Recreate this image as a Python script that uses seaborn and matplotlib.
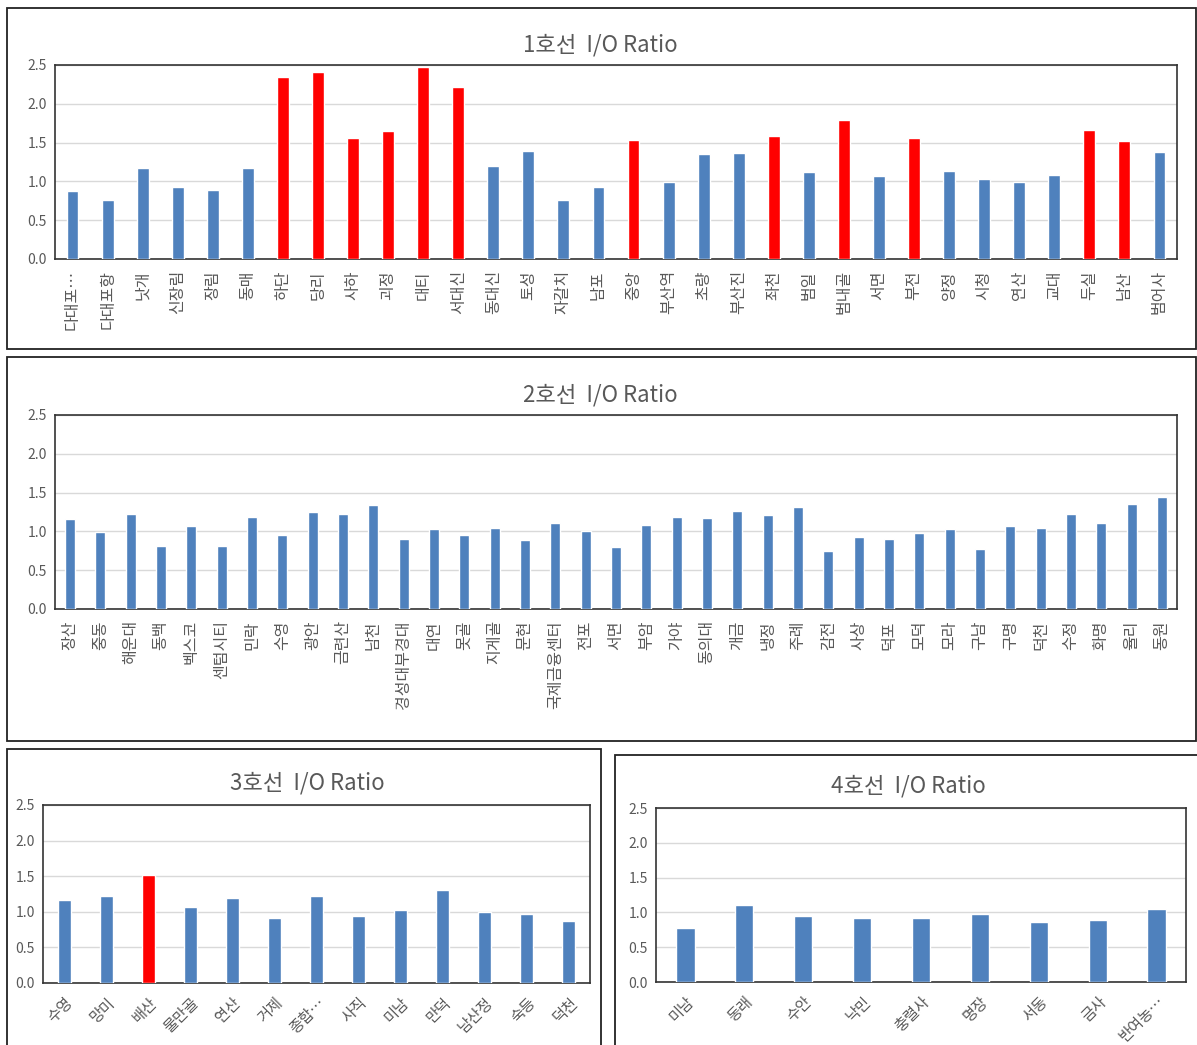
import matplotlib.pyplot as plt
import pandas as pd
import seaborn as sns
from matplotlib.patches import Rectangle

# Line 1
line1_stations = ["다대포…", "다대포항", "낫개", "신장림", "장림", "동매", "하단", "당리", "사하", "괴정",
                  "대티", "서대신", "동대신", "토성", "자갈치", "남포", "중앙", "부산역", "초량", "부산진",
                  "좌천", "범일", "범내골", "서면", "부전", "양정", "시청", "연산", "교대", "두실", "남산", "범어사"]
line1_ratio = [0.88, 0.76, 1.17, 0.93, 0.89, 1.17, 2.35, 2.41, 1.56, 1.65,
               2.47, 2.22, 1.20, 1.39, 0.76, 0.93, 1.53, 0.99, 1.35, 1.37,
               1.59, 1.12, 1.79, 1.07, 1.56, 1.13, 1.03, 0.99, 1.08, 1.66, 1.52, 1.38]
line1_red = ["하단", "당리", "사하", "괴정", "대티", "서대신", "중앙", "좌천", "범내골", "부전", "두실", "남산"]

# Line 2
line2_stations = ["장산", "중동", "해운대", "동백", "벡스코", "센텀시티", "민락", "수영", "광안", "금련산",
                  "남천", "경성대부경대", "대연", "못골", "지게골", "문현", "국제금융센터", "전포", "서면", "부암",
                  "가야", "동의대", "개금", "냉정", "주례", "감전", "사상", "덕포", "모덕", "모라",
                  "구남", "구명", "덕천", "수정", "화명", "율리", "동원"]
line2_ratio = [1.16, 0.99, 1.22, 0.81, 1.07, 0.81, 1.19, 0.95, 1.25, 1.22,
               1.34, 0.90, 1.03, 0.95, 1.04, 0.89, 1.11, 1.01, 0.80, 1.08,
               1.19, 1.17, 1.26, 1.21, 1.31, 0.75, 0.93, 0.90, 0.98, 1.03,
               0.77, 1.07, 1.04, 1.22, 1.11, 1.35, 1.44]
line2_red = []

# Line 3
line3_stations = ["수영", "망미", "배산", "물만골", "연산", "거제", "종합…", "사직", "미남", "만덕", "남산정", "숙등", "덕천"]
line3_ratio = [1.17, 1.22, 1.52, 1.07, 1.19, 0.91, 1.22, 0.94, 1.03, 1.31, 1.00, 0.97, 0.87]
line3_red = ["배산"]

# Line 4
line4_stations = ["미남", "동래", "수안", "낙민", "충렬사", "명장", "서동", "금사", "반여농…"]
line4_ratio = [0.78, 1.11, 0.95, 0.92, 0.92, 0.98, 0.86, 0.89, 1.05]
line4_red = []

BLUE = "#4F81BD"
RED = "#FF0000"
W, H = 1197, 1045

sns.set_style("white")
plt.rcParams["font.family"] = ["Noto Sans CJK KR", "DejaVu Sans"]

fig = plt.figure(figsize=(W / 100, H / 100), dpi=100)


def px_axes(x0, y0, x1, y1):
    return fig.add_axes([x0 / W, 1 - y1 / H, (x1 - x0) / W, (y1 - y0) / H])


def frame(x0, y0, x1, y1):
    fig.patches.append(Rectangle((x0 / W, 1 - y1 / H), (x1 - x0) / W, (y1 - y0) / H,
                                 transform=fig.transFigure, fill=False, edgecolor="#222222", lw=1.3))


def draw_line(ax, stations, ratio, red, width, rot, title, tx, ty, fs=11.5):
    df = pd.DataFrame({"station": stations, "ratio": ratio})
    df["hl"] = df["station"].isin(red).map({True: "red", False: "blue"})
    sns.barplot(data=df, x="station", y="ratio", hue="hl", palette={"red": RED, "blue": BLUE},
                dodge=False, width=width, legend=False, saturation=1, ax=ax, zorder=3)
    ax.set_ylim(0, 2.5)
    ax.set_xlim(-0.5, len(stations) - 0.5)
    ax.set_yticks([0, 0.5, 1.0, 1.5, 2.0, 2.5])
    ax.set_yticklabels(["0.0", "0.5", "1.0", "1.5", "2.0", "2.5"], fontsize=10, color="#595959")
    ax.yaxis.grid(True, color="#D9D9D9", lw=1, zorder=0)
    ax.set_axisbelow(True)
    ax.set_xlabel("")
    ax.set_ylabel("")
    ax.tick_params(axis="y", length=0, pad=6)
    ax.tick_params(axis="x", length=0, pad=8)
    ax.set_xticks(range(len(stations)))
    if rot == 90:
        ax.set_xticklabels(stations, rotation=90, fontsize=fs, color="#595959", va="top")
    else:
        ax.set_xticklabels(stations, rotation=45, ha="right", rotation_mode="anchor",
                           fontsize=fs, color="#595959")
    for s in ax.spines.values():
        s.set_color("#333333")
        s.set_linewidth(1.2)
    fig.text(tx / W, 1 - ty / H, title, ha="center", va="center", fontsize=16, color="#595959")


frame(7, 8, 1196, 349)
frame(7, 357, 1196, 741)
frame(7, 749, 601, 1060)
frame(615, 755, 1210, 1060)

ax1 = px_axes(55, 65, 1177, 259)
draw_line(ax1, line1_stations, line1_ratio, line1_red, 0.34, 90, "1호선  I/O Ratio", 600, 45)

ax2 = px_axes(55, 415, 1177, 609)
draw_line(ax2, line2_stations, line2_ratio, line2_red, 0.33, 90, "2호선  I/O Ratio", 600, 395)

ax3 = px_axes(43, 805, 590, 983)
draw_line(ax3, line3_stations, line3_ratio, line3_red, 0.31, 45, "3호선  I/O Ratio", 307, 783, fs=11)

ax4 = px_axes(656, 808, 1186, 982)
draw_line(ax4, line4_stations, line4_ratio, line4_red, 0.31, 45, "4호선  I/O Ratio", 908, 786, fs=11)

fig.savefig("out.png", dpi=100)
